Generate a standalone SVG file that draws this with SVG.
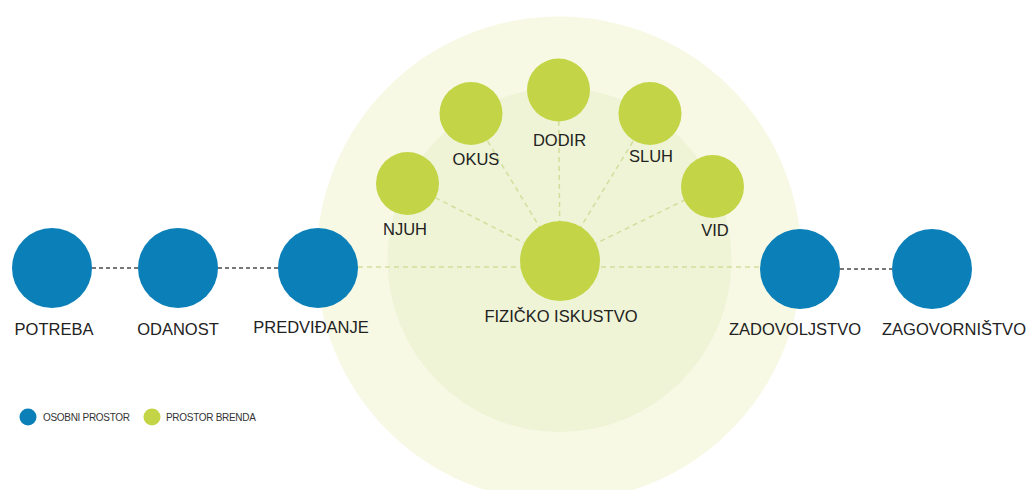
<svg xmlns="http://www.w3.org/2000/svg" width="1032" height="490" viewBox="0 0 1032 490">
<style>
  .bg{fill:#ffffff}
  .blue{fill:#0b7fb8}
  .green{fill:#c3d546}
  .lbl{font-family:"Liberation Sans",Arial,sans-serif;font-size:16.5px;fill:#222;text-anchor:middle}
  .leg{font-family:"Liberation Sans",Arial,sans-serif;font-size:10px;fill:#333;letter-spacing:-0.3px}
  .gdash{stroke:#777;stroke-width:2;stroke-dasharray:4 3;fill:none}
  .ldash{stroke:#d3de9c;stroke-width:1.5;stroke-dasharray:5 4;fill:none}
</style>
<rect class="bg" x="0" y="0" width="1032" height="490"/>
<g id="background">
  <circle cx="559" cy="259" r="242.5" fill="#f7f9e5"/>
  <circle cx="559.5" cy="260" r="172" fill="#eff4d6"/>
</g>
<g id="connectors">
  <line class="gdash" x1="92" y1="268" x2="138" y2="268"/>
  <line class="gdash" x1="218" y1="268" x2="278" y2="268"/>
  <line class="gdash" x1="840" y1="269" x2="892" y2="269"/>
  <line class="ldash" x1="358" y1="267" x2="760" y2="267"/>
  <line class="ldash" x1="560" y1="261" x2="407.5" y2="183.5"/>
  <line class="ldash" x1="560" y1="261" x2="471" y2="113.5"/>
  <line class="ldash" x1="560" y1="261" x2="558.5" y2="90"/>
  <line class="ldash" x1="560" y1="261" x2="650" y2="113.5"/>
  <line class="ldash" x1="560" y1="261" x2="712.5" y2="186.5"/>
</g>
<g id="potreba"><circle class="blue" cx="52" cy="268" r="40"/><text class="lbl" x="54" y="335">POTREBA</text></g>
<g id="odanost"><circle class="blue" cx="178" cy="268" r="40"/><text class="lbl" x="178" y="335">ODANOST</text></g>
<g id="predvidanje"><circle class="blue" cx="318" cy="268" r="40"/><text class="lbl" x="311" y="333">PREDVIĐANJE</text></g>
<g id="fizicko"><circle class="green" cx="560" cy="261" r="40"/><text class="lbl" x="561" y="322">FIZIČKO ISKUSTVO</text></g>
<g id="njuh"><circle class="green" cx="407.5" cy="183.5" r="31.5"/><text class="lbl" x="405" y="235">NJUH</text></g>
<g id="okus"><circle class="green" cx="471" cy="113.5" r="31.5"/><text class="lbl" x="476" y="165">OKUS</text></g>
<g id="dodir"><circle class="green" cx="558.5" cy="90" r="31.5"/><text class="lbl" x="559.5" y="146">DODIR</text></g>
<g id="sluh"><circle class="green" cx="650" cy="113.5" r="31.5"/><text class="lbl" x="651" y="162">SLUH</text></g>
<g id="vid"><circle class="green" cx="712.5" cy="186.5" r="31.5"/><text class="lbl" x="715" y="236">VID</text></g>
<g id="zadovoljstvo"><circle class="blue" cx="800" cy="269" r="40"/><text class="lbl" x="795" y="335">ZADOVOLJSTVO</text></g>
<g id="zagovornistvo"><circle class="blue" cx="932" cy="269" r="40"/><text class="lbl" x="954" y="335">ZAGOVORNIŠTVO</text></g>
<g id="legend">
  <circle class="blue" cx="28" cy="417" r="8.5"/>
  <text class="leg" x="43" y="420.5">OSOBNI PROSTOR</text>
  <circle class="green" cx="152" cy="417" r="8.5"/>
  <text class="leg" x="166" y="420.5">PROSTOR BRENDA</text>
</g>
</svg>
